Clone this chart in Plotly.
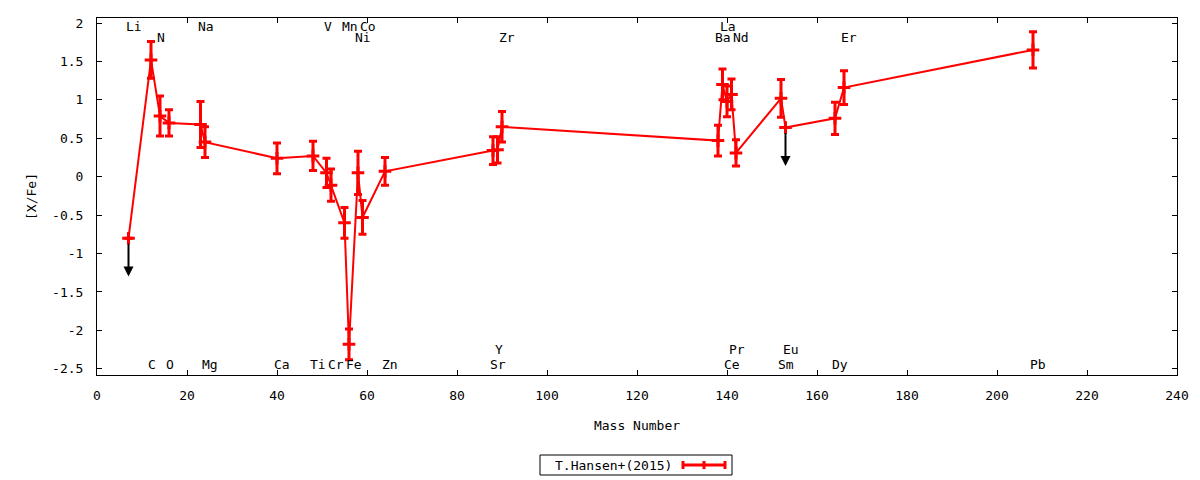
import plotly.graph_objects as go

# abundance pattern, in the order the points are joined
elements = ['Li', 'C', 'N', 'O', 'Na', 'Mg', 'Ca', 'Ti', 'V', 'Cr', 'Mn', 'Fe', 'Co', 'Ni',
            'Zn', 'Sr', 'Y', 'Zr', 'Ba', 'La', 'Ce', 'Pr', 'Nd', 'Sm', 'Eu', 'Dy', 'Er', 'Pb']
mass = [7, 12, 14, 16, 23, 24, 40, 48, 51, 52, 55, 56, 58, 59,
        64, 88, 89, 90, 138, 139, 140, 141, 142, 152, 153, 164, 166, 208]
xfe = [-0.80, 1.52, 0.79, 0.70, 0.68, 0.45, 0.24, 0.27, 0.05, -0.11, -0.60, -2.18, 0.05, -0.53,
       0.07, 0.34, 0.35, 0.65, 0.47, 1.20, 0.98, 1.07, 0.31, 1.02, 0.64, 0.76, 1.16, 1.65]
err = [0.0, 0.24, 0.26, 0.17, 0.30, 0.20, 0.20, 0.19, 0.19, 0.21, 0.20, 0.20, 0.28, 0.22,
       0.18, 0.18, 0.17, 0.20, 0.20, 0.20, 0.20, 0.20, 0.17, 0.245, 0.0, 0.21, 0.22, 0.235]
upper_limit = ['Li', 'Eu']
limit_len = 0.5

# element name labels along the top and bottom of the frame
label_names = ['Li', 'C', 'N', 'O', 'Na', 'Mg', 'Ca', 'Ti', 'V', 'Cr', 'Mn', 'Fe', 'Co', 'Ni',
               'Zn', 'Sr', 'Y', 'Zr', 'Ba', 'La', 'Ce', 'Pr', 'Nd', 'Sm', 'Eu', 'Dy', 'Er', 'Pb']
label_mass = [7, 12, 14, 16, 23, 24, 40, 48, 51, 52, 55, 56, 59, 58,
              64, 88, 89, 90, 138, 139, 140, 141, 142, 152, 153, 164, 166, 208]
# row of each label: t1/t2 top rows, b1/b2 bottom rows
label_row = ['t1', 'b1', 't2', 'b1', 't1', 'b1', 'b1', 'b1', 't1', 'b1', 't1', 'b1', 't1', 't2',
             'b1', 'b1', 'b2', 't2', 't2', 't1', 'b1', 'b2', 't2', 'b1', 'b2', 'b1', 't2', 'b1']
row_y = {'t1': 1.95, 't2': 1.81, 'b1': -2.44, 'b2': -2.25}

xticks = list(range(0, 241, 20))
yticks = [2, 1.5, 1, 0.5, 0, -0.5, -1, -1.5, -2, -2.5]
ytick_text = ['2', '1.5', '1', '0.5', '0', '-0.5', '-1', '-1.5', '-2', '-2.5']

FONT = 'DejaVu Sans Mono'
FS = 13
RED = '#ff0000'
# the page body adds an 8px offset, so the figure is 1192x472 placed at (8, 8)
FIG_W, FIG_H = 1192, 472
L, R, T, B = 89, 23, 10, 105
W, H = FIG_W - L - R, FIG_H - T - B
OFF = 8


def px(x):
    # screen pixel -> paper x
    return (x - OFF - L) / W


def py(y):
    # screen pixel -> paper y
    return (FIG_H - B - (y - OFF)) / H


fig = go.Figure()
fig.add_trace(go.Scatter(
    x=mass, y=xfe, mode='lines+markers', name='T.Hansen+(2015)',
    line=dict(color=RED, width=2),
    marker=dict(symbol='cross-thin', size=9, color=RED, line=dict(color=RED, width=3)),
    error_y=dict(type='data', array=err, visible=True, color=RED, thickness=3, width=4),
    showlegend=False,
))

# upper limits as downward arrows
for el, m, v in zip(elements, mass, xfe):
    if el in upper_limit:
        fig.add_annotation(x=m, y=v - limit_len, ax=m, ay=v, xref='x', yref='y',
                           axref='x', ayref='y', text='', showarrow=True,
                           arrowhead=2, arrowsize=1, arrowwidth=2, arrowcolor='black',
                           startstandoff=4)

for name, m, row in zip(label_names, label_mass, label_row):
    fig.add_annotation(x=m - 0.8, y=row_y[row], xref='x', yref='y', text=name,
                       showarrow=False, xanchor='left', yanchor='middle', borderpad=0,
                       font=dict(family=FONT, size=FS, color='black'))

# legend box drawn gnuplot-style: text first, then sample
fig.add_shape(type='rect', xref='paper', yref='paper', x0=px(540), x1=px(732),
              y0=py(475), y1=py(455), line=dict(color='black', width=1))
fig.add_annotation(x=px(554), y=py(465), xref='paper', yref='paper', text='T.Hansen+(2015)',
                   showarrow=False, xanchor='left', yanchor='middle', borderpad=0,
                   font=dict(family=FONT, size=FS, color='black'))
fig.add_shape(type='line', xref='paper', yref='paper', x0=px(683), x1=px(725),
              y0=py(465), y1=py(465), line=dict(color=RED, width=3))
for xc in (683, 704, 725):
    fig.add_shape(type='line', xref='paper', yref='paper', x0=px(xc), x1=px(xc),
                  y0=py(461), y1=py(469), line=dict(color=RED, width=3))

axis_common = dict(showgrid=False, zeroline=False, showline=True, linecolor='black',
                   linewidth=1, mirror='ticks', ticks='inside', ticklen=5,
                   tickcolor='black', tickfont=dict(family=FONT, size=FS, color='black'))

fig.update_xaxes(range=[0, 240], tickvals=xticks, ticklabelstandoff=8,
                 title=dict(text='Mass Number', font=dict(family=FONT, size=FS, color='black'),
                            standoff=19),
                 **axis_common)
fig.update_yaxes(range=[-2.58, 2.065], tickvals=yticks, ticktext=ytick_text,
                 ticklabelstandoff=10,
                 title=dict(text='[X/Fe]', font=dict(family=FONT, size=FS, color='black'),
                            standoff=12),
                 **axis_common)

fig.update_layout(width=FIG_W, height=FIG_H, margin=dict(l=L, r=R, t=T, b=B, autoexpand=False),
                  paper_bgcolor='white', plot_bgcolor='white',
                  font=dict(family=FONT, size=FS, color='black'))

fig.write_html('out.html')
